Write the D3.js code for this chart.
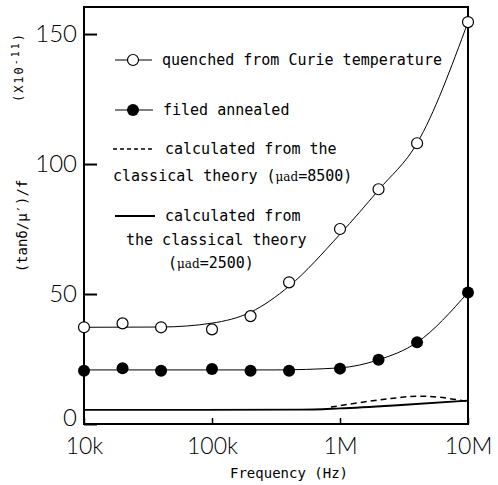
<!DOCTYPE html>
<html>
<head>
<meta charset="utf-8">
<script src="https://cdn.jsdelivr.net/npm/d3@7"></script>
<style>
  body { margin: 0; background: #fff; }
  svg { display: block; }
</style>
</head>
<body>
<svg id="chart" width="498" height="485"></svg>
<script>
// measured points
const freqs = [1e4, 2e4, 4e4, 1e5, 2e5, 4e5, 1e6, 2e6, 4e6, 1e7];
const quenched = [37.2, 38.7, 37.2, 36.4, 41.5, 54.5, 75.0, 90.3, 108.0, 154.6];
const annealed = [20.5, 21.4, 20.5, 21.2, 20.5, 20.5, 21.3, 24.7, 31.4, 50.6];

// hand drawn fits
const quenchedFitFreqs = [1e4, 4e4, 1e5, 2e5, 4e5, 1e6, 2e6, 4e6, 1e7];
const quenchedFit = [37.2, 37.3, 38.8, 43.0, 53.0, 73.0, 90.0, 108.0, 154.6];
const annealedFitFreqs = [1e4, 3e5, 1e6, 2e6, 4e6, 1e7];
const annealedFit = [20.8, 20.8, 21.6, 24.7, 31.4, 50.6];

// classical theory curves
const theory2500Freqs = [1e4, 5e5, 1e6, 3e6, 1e7];
const theory2500 = [5.4, 5.5, 6.0, 7.3, 9.0];
const theory8500Freqs = [8.5e5, 1.5e6, 2.5e6, 4e6, 6e6, 1e7];
const theory8500 = [6.5, 8.4, 9.8, 10.7, 10.3, 8.6];

const xTickValues = [1e4, 1e5, 1e6, 1e7];
const xTickLabels = ["10k", "100k", "1M", "10M"];
const yTickValues = [0, 50, 100, 150];
const yMax = 160.4;

const plotLeft = 84, plotRight = 468, plotTop = 7, plotBottom = 424;
const tickFont = "Lato, Liberation Sans, sans-serif";

let svg = d3.select("#chart");

let x = d3.scaleLog().domain([1e4, 1e7]).range([plotLeft, plotRight]);
let y = d3.scaleLinear().domain([0, yMax]).range([plotBottom, plotTop]);

/* ========== FRAME + AXES ========== */

svg.append("rect")
  .attr("x", plotLeft).attr("y", plotTop)
  .attr("width", plotRight - plotLeft).attr("height", plotBottom - plotTop)
  .attr("fill", "none").attr("stroke", "#000").attr("stroke-width", 2);

let yAxis = d3.axisLeft(y)
  .tickValues(yTickValues)
  .tickSize(-13)
  .tickPadding(7)
  .tickFormat(d3.format("d"));

let yAxisSel = svg.append("g")
  .attr("transform", "translate(" + plotLeft + ",0)")
  .call(yAxis);
yAxisSel.select(".domain").remove();
yAxisSel.selectAll("line").attr("stroke-width", 2);
yAxisSel.selectAll("text")
  .style("font-family", tickFont)
  .style("font-weight", 300)
  .style("font-size", "24px")
  .attr("fill", "#000");
yAxisSel.selectAll("text").filter(d => d === 0).attr("dy", "0.05em");

let xAxis = d3.axisBottom(x)
  .tickValues(xTickValues)
  .tickSize(-6)
  .tickPadding(14)
  .tickFormat((d, i) => xTickLabels[i]);

let xAxisSel = svg.append("g")
  .attr("transform", "translate(0," + plotBottom + ")")
  .call(xAxis);
xAxisSel.select(".domain").remove();
xAxisSel.selectAll("line").attr("stroke-width", 1.5);
xAxisSel.selectAll("text")
  .style("font-family", tickFont)
  .style("font-weight", 300)
  .style("font-size", "23px")
  .attr("fill", "#000");

svg.append("text")
  .attr("x", 289).attr("y", 478)
  .attr("text-anchor", "middle")
  .style("font-family", "DejaVu Sans Mono, monospace")
  .style("font-size", "14px")
  .text("Frequency (Hz)");

svg.append("text")
  .attr("transform", "translate(27,226) rotate(-90)")
  .attr("text-anchor", "middle")
  .style("font-family", "DejaVu Sans Mono, monospace")
  .style("font-size", "14px")
  .text("(tanδ/μ′)/f");

let unitSel = svg.append("text")
  .attr("transform", "translate(23,67) rotate(-90)")
  .attr("text-anchor", "middle")
  .style("font-family", "DejaVu Sans Mono, monospace")
  .style("font-size", "12px")
  .style("letter-spacing", "2px");
unitSel.append("tspan").text("(X10");
unitSel.append("tspan").attr("dy", -4).style("font-size", "10px").text("-11");
unitSel.append("tspan").attr("dy", 4).text(")");

/* ========== CURVES ========== */

function lineOf(fx, fy, curve) {
  return d3.line()
    .x((d, i) => x(fx[i]))
    .y((d, i) => y(fy[i]))
    .curve(curve)(fx);
}

svg.append("path")
  .attr("d", lineOf(quenchedFitFreqs, quenchedFit, d3.curveMonotoneX))
  .attr("fill", "none").attr("stroke", "#000").attr("stroke-width", 1);

svg.append("path")
  .attr("d", lineOf(annealedFitFreqs, annealedFit, d3.curveMonotoneX))
  .attr("fill", "none").attr("stroke", "#000").attr("stroke-width", 1);

svg.append("path")
  .attr("d", lineOf(theory2500Freqs, theory2500, d3.curveMonotoneX))
  .attr("fill", "none").attr("stroke", "#000").attr("stroke-width", 1.8);

svg.append("path")
  .attr("d", lineOf(theory8500Freqs, theory8500, d3.curveCatmullRom))
  .attr("fill", "none").attr("stroke", "#000").attr("stroke-width", 1.5)
  .attr("stroke-dasharray", "6,4");

/* ========== POINTS ========== */

svg.append("g").selectAll("circle").data(quenched).join("circle")
  .attr("cx", (d, i) => x(freqs[i]))
  .attr("cy", d => y(d))
  .attr("r", 5.5)
  .attr("fill", "#fff").attr("stroke", "#000").attr("stroke-width", 1.2);

svg.append("g").selectAll("circle").data(annealed).join("circle")
  .attr("cx", (d, i) => x(freqs[i]))
  .attr("cy", d => y(d))
  .attr("r", 6)
  .attr("fill", "#000");

/* ========== LEGEND ========== */

let legend = svg.append("g")
  .style("font-family", "DejaVu Sans Mono, monospace")
  .style("font-size", "15px");

legend.append("line").attr("x1", 115).attr("x2", 152).attr("y1", 60).attr("y2", 60)
  .attr("stroke", "#000").attr("stroke-width", 1.2);
legend.append("circle").attr("cx", 133).attr("cy", 60).attr("r", 5.5)
  .attr("fill", "#fff").attr("stroke", "#000").attr("stroke-width", 1.2);
legend.append("text").attr("x", 162).attr("y", 65).text("quenched from Curie temperature");

legend.append("line").attr("x1", 115).attr("x2", 153).attr("y1", 110).attr("y2", 110)
  .attr("stroke", "#000").attr("stroke-width", 1.2);
legend.append("circle").attr("cx", 133).attr("cy", 110).attr("r", 6).attr("fill", "#000");
legend.append("text").attr("x", 163).attr("y", 115).text("filed annealed");

legend.append("line").attr("x1", 113).attr("x2", 152).attr("y1", 149).attr("y2", 149)
  .attr("stroke", "#000").attr("stroke-width", 1.5).attr("stroke-dasharray", "4,3");
legend.append("text").attr("x", 165).attr("y", 154).text("calculated from the");
let t8500 = legend.append("text").attr("x", 113).attr("y", 181);
t8500.append("tspan").text("classical theory (");
t8500.append("tspan").style("font-size", "12px").style("font-family", "DejaVu Serif, serif").text("μad");
t8500.append("tspan").text("=8500)");

legend.append("line").attr("x1", 115).attr("x2", 155).attr("y1", 216).attr("y2", 216)
  .attr("stroke", "#000").attr("stroke-width", 1.8);
legend.append("text").attr("x", 165).attr("y", 221).text("calculated from");
legend.append("text").attr("x", 126).attr("y", 245).text("the classical theory");
let t2500 = legend.append("text").attr("x", 168).attr("y", 268);
t2500.append("tspan").text("(");
t2500.append("tspan").style("font-size", "12px").style("font-family", "DejaVu Serif, serif").text("μad");
t2500.append("tspan").text("=2500)");
</script>
</body>
</html>
